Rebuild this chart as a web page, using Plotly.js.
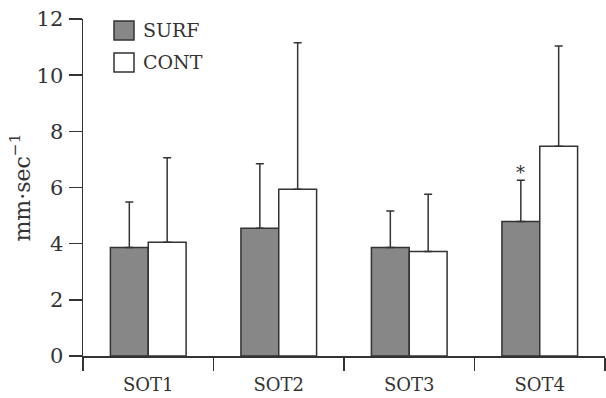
<!DOCTYPE html>
<html>
<head>
<meta charset="utf-8">
<script src="https://cdn.plot.ly/plotly-3.0.1.min.js"></script>
<style>html,body{margin:0;padding:0;background:#fff;}#chart{width:606px;height:398px;}</style>
</head>
<body>
<div id="chart"></div>
<script>
var categories = ['SOT1', 'SOT2', 'SOT3', 'SOT4'];
var seriesNames = ['SURF', 'CONT'];
var surfValues = [3.86, 4.55, 3.86, 4.79];
var surfErr = [1.62, 2.30, 1.30, 1.47];
var contValues = [4.05, 5.94, 3.72, 7.47];
var contErr = [3.01, 5.21, 2.04, 3.57];
var yTickVals = [0, 2, 4, 6, 8, 10, 12];
var starCategory = 'SOT4';

var lineCol = '#333333';
var textCol = '#333333';
var fontFam = '"DejaVu Serif", serif';
var fillCols = ['#878787', '#ffffff'];

var zeros = categories.map(function () { return 0; });

function barTrace(name, vals, errs, fill) {
  return {
    type: 'bar', name: name, x: categories, y: vals, showlegend: false,
    marker: { color: fill, line: { color: lineCol, width: 1.5 } },
    error_y: { type: 'data', symmetric: false, array: errs, arrayminus: zeros,
               color: lineCol, thickness: 1.5, width: 4 }
  };
}

var traces = [
  barTrace(seriesNames[0], surfValues, surfErr, fillCols[0]),
  barTrace(seriesNames[1], contValues, contErr, fillCols[1])
];

var si = categories.indexOf(starCategory);

// manual legend (larger swatches like the reference)
var legendShapes = [];
var legendAnns = [];
var legTop = [0.994, 0.899];
seriesNames.forEach(function (nm, i) {
  legendShapes.push({ type: 'rect', xref: 'paper', yref: 'paper',
    x0: 0.0594, x1: 0.0977, y0: legTop[i] - 0.056, y1: legTop[i],
    fillcolor: fillCols[i], line: { color: lineCol, width: 1.5 } });
  legendAnns.push({ xref: 'paper', yref: 'paper', x: 0.112, y: legTop[i] - 0.028,
    xanchor: 'left', yanchor: 'middle', text: nm, showarrow: false,
    font: { family: fontFam, size: 19, color: textCol } });
});

var layout = {
  width: 606, height: 398,
  margin: { l: 83, r: 1, t: 19, b: 42 },
  paper_bgcolor: '#ffffff', plot_bgcolor: '#ffffff',
  font: { family: fontFam, size: 19, color: textCol },
  barmode: 'group', bargap: 0.42, bargroupgap: 0,
  showlegend: false,
  xaxis: {
    type: 'category', showline: true, linecolor: lineCol, linewidth: 1.5,
    ticks: 'outside', tickson: 'boundaries', ticklen: 13, tickcolor: lineCol, tickwidth: 1.5,
    showgrid: false, zeroline: false, ticklabelstandoff: 12,
    tickfont: { family: fontFam, size: 18, color: textCol }
  },
  yaxis: {
    range: [0, 12], tickvals: yTickVals, showline: true, linecolor: lineCol, linewidth: 1.5,
    ticks: 'outside', ticklen: 13, tickcolor: lineCol, tickwidth: 1.5,
    showgrid: false, zeroline: false, ticklabelstandoff: 1,
    tickfont: { family: fontFam, size: 21, color: textCol },
    title: { text: 'mm·sec<sup>−1</sup>', font: { family: fontFam, size: 22, color: textCol }, standoff: 0 }
  },
  shapes: legendShapes,
  annotations: legendAnns.concat([
    { x: starCategory, y: surfValues[si] + surfErr[si], xref: 'x', yref: 'y',
      text: '*', showarrow: false, xshift: -19, yanchor: 'bottom', yshift: -5,
      font: { family: fontFam, size: 18, color: textCol } }
  ])
};

Plotly.newPlot('chart', traces, layout, { staticPlot: true, displayModeBar: false });
</script>
</body>
</html>
